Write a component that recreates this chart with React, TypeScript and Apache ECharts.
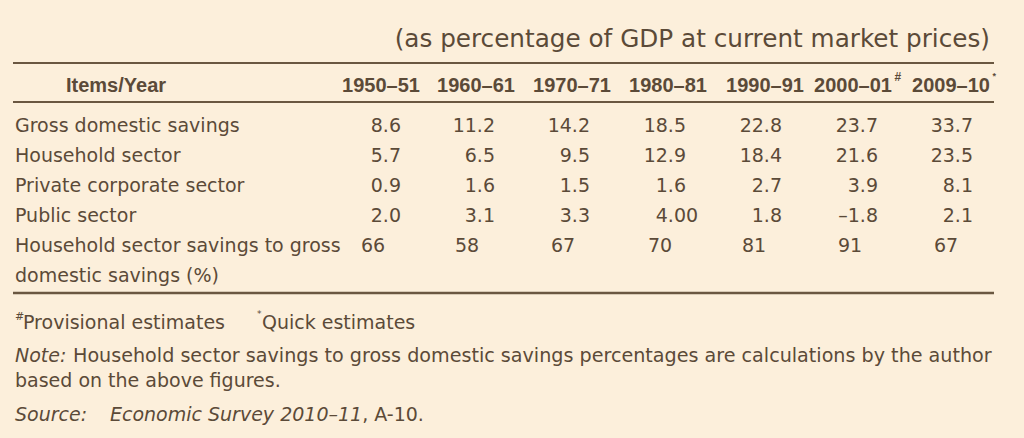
import React, { useEffect, useRef } from "react";
import * as echarts from "echarts";

// ---------- data ----------
const title = "(as percentage of GDP at current market prices)";
const headerLabel = "Items/Year";
const years = ["1950–51", "1960–61", "1970–71", "1980–81", "1990–91", "2000–01", "2009–10"];
const yearMarks = ["", "", "", "", "", "#", "*"];
const rowLabels = ["Gross domestic savings", "Household sector", "Private corporate sector", "Public sector"];
const grossDomesticSavings = ["8.6", "11.2", "14.2", "18.5", "22.8", "23.7", "33.7"];
const householdSector = ["5.7", "6.5", "9.5", "12.9", "18.4", "21.6", "23.5"];
const privateCorporateSector = ["0.9", "1.6", "1.5", "1.6", "2.7", "3.9", "8.1"];
const publicSector = ["2.0", "3.1", "3.3", "4.00", "1.8", "–1.8", "2.1"];
const shareLabel = ["Household sector savings to gross", "domestic savings (%)"];
const householdShare = ["66", "58", "67", "70", "81", "91", "67"];
const footProvisional = "Provisional estimates";
const footQuick = "Quick estimates";
const noteLabel = "Note:";
const noteLine1 = "Household sector savings to gross domestic savings percentages are calculations by the author";
const noteLine2 = "based on the above figures.";
const sourceLabel = "Source:";
const sourceTitle = "Economic Survey 2010–11";
const sourceRest = ", A-10.";

// ---------- style ----------
const BG = "#FCEFDB";
const INK = "#5B4A38";
const RULE = "#6A5741";
const BODY_FONT = "DejaVu Sans";
const HEAD_FONT = "Liberation Sans";
const BODY_SIZE = 19;

const headerCenters = [381, 476, 572, 668, 765, 853, 951];
const numRight = [401, 495, 590, 686, 782, 878, 973];
const pctLeft = [361, 455, 551, 648, 742, 838, 934];
const rowY = [125, 155, 185, 215, 245, 275];

function txt(text: string, x: number, y: number, o: any = {}) {
  return {
    type: "text",
    x,
    y,
    silent: true,
    style: {
      text,
      fill: o.fill || INK,
      fontFamily: o.fontFamily || BODY_FONT,
      fontSize: o.fontSize || BODY_SIZE,
      fontWeight: o.fontWeight || "normal",
      fontStyle: o.fontStyle || "normal",
      align: o.align || "left",
      verticalAlign: "middle",
      rich: o.rich,
    },
  };
}

function rule(y: number, w: number) {
  return {
    type: "line",
    silent: true,
    shape: { x1: 13, y1: y, x2: 994, y2: y },
    style: { stroke: RULE, lineWidth: w },
  };
}

export default function App() {
  const ref = useRef<HTMLDivElement>(null);
  useEffect(() => {
    document.body.style.margin = "0";
    const chart = echarts.init(ref.current!, null, { renderer: "svg" });
    const els: any[] = [];
    const digitW = BODY_SIZE * 0.636;

    els.push(txt(title, 990, 38, { fontSize: 24.7, align: "right" }));
    els.push(rule(63, 2));
    els.push(rule(102, 2));
    els.push(rule(293, 2.5));

    els.push(txt(headerLabel, 116, 85, { fontFamily: HEAD_FONT, fontSize: 20, fontWeight: "bold", align: "center" }));
    years.forEach((yr, i) => {
      els.push(txt(yr, headerCenters[i], 85, { fontFamily: HEAD_FONT, fontSize: 20, fontWeight: "bold", align: "center" }));
      if (yearMarks[i]) {
        const half = 39.5;
        const isHash = yearMarks[i] === "#";
        els.push(
          txt(yearMarks[i], headerCenters[i] + half + 2, isHash ? 77 : 76, {
            fontFamily: HEAD_FONT,
            fontSize: isHash ? 12 : 9,
            fontWeight: "bold",
          })
        );
      }
    });

    const numericRows = [grossDomesticSavings, householdSector, privateCorporateSector, publicSector];
    numericRows.forEach((vals, r) => {
      els.push(txt(rowLabels[r], 15, rowY[r]));
      vals.forEach((v, c) => {
        const dec = v.includes(".") ? v.split(".")[1].length : 0;
        els.push(txt(v, numRight[c] + (dec - 1) * digitW, rowY[r], { align: "right" }));
      });
    });

    els.push(txt(shareLabel[0], 15, rowY[4]));
    els.push(txt(shareLabel[1], 15, rowY[5]));
    householdShare.forEach((v, c) => {
      els.push(txt(v, pctLeft[c], rowY[4]));
    });

    // footnotes
    els.push(txt("#", 15, 316, { fontSize: 11 }));
    els.push(txt(footProvisional, 23, 322));
    els.push(txt("*", 257, 314, { fontSize: 9 }));
    els.push(txt(footQuick, 262, 322));

    els.push(txt(noteLabel, 15, 355, { fontStyle: "italic" }));
    els.push(txt(noteLine1, 73, 355, { fontSize: 19.15 }));
    els.push(txt(noteLine2, 15, 380));

    els.push(txt(sourceLabel, 15, 414, { fontStyle: "italic" }));
    els.push(
      txt("{i|" + sourceTitle + "}" + sourceRest, 110, 414, {
        rich: {
          i: { fontStyle: "italic", fontFamily: BODY_FONT, fontSize: BODY_SIZE, fill: INK },
        },
      })
    );

    chart.setOption({
      animation: false,
      backgroundColor: BG,
      graphic: { elements: els },
    });
    return () => chart.dispose();
  }, []);
  return <div ref={ref} style={{ width: 1024, height: 438 }} />;
}
